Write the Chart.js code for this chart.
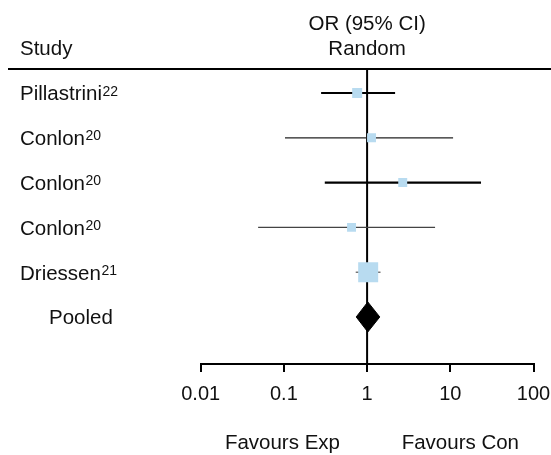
<!DOCTYPE html>
<html><head><meta charset="utf-8">
<script src="https://cdn.jsdelivr.net/npm/chart.js@4/dist/chart.umd.min.js"></script>
<style>html,body{margin:0;padding:0;background:#fff}</style>
</head><body>
<canvas id="c" width="551" height="455"></canvas>
<script>
const studies = ['Pillastrini', 'Conlon', 'Conlon', 'Conlon', 'Driessen'];
const refs = ['22', '20', '20', '20', '21'];
const oddsRatio = [0.76, 1.13, 2.68, 0.65, 1.03];
const ciLower = [0.28, 0.103, 0.31, 0.049, 0.73];
const ciUpper = [2.17, 10.8, 23.4, 6.56, 1.45];
const weights = [12.5, 10, 10, 10, 50];
const pooledLabel = 'Pooled';
const pooledOR = 1.02, pooledLower = 0.74, pooledUpper = 1.42;
const tickValues = [0.01, 0.1, 1, 10, 100];
const tickLabels = ['0.01', '0.1', '1', '10', '100'];
const favourLabels = ['Favours Exp', 'Favours Con'];

const FONT = '"Liberation Sans", Arial, Helvetica, sans-serif';
const TEXT = '#111';
const ciWidths = [2.2, 1.2, 2.2, 1.2, 1];
const ciColors = ['#000', '#222', '#000', '#444', '#333'];
const pooledRow = studies.length;
const diamondHalf = 0.335;

const datasets = [];
datasets.push({
  type: 'scatter', label: 'OR', order: 0,
  data: oddsRatio.map((v, i) => ({x: v, y: i})),
  pointStyle: 'rect',
  pointRadius: weights.map(w => 2 * Math.sqrt(w)),
  backgroundColor: '#b8dbf0', borderWidth: 0, pointBorderWidth: 0
});
datasets.push({
  type: 'line', label: 'Pooled', order: 0,
  data: [
    {x: pooledLower, y: pooledRow}, {x: pooledOR, y: pooledRow - diamondHalf},
    {x: pooledUpper, y: pooledRow}, {x: pooledOR, y: pooledRow + diamondHalf},
    {x: pooledLower, y: pooledRow}
  ],
  fill: 'shape', backgroundColor: '#000', borderColor: '#000', borderWidth: 1,
  pointRadius: 0, tension: 0
});
studies.forEach((s, i) => {
  datasets.push({
    type: 'line', label: 'CI ' + i, order: 1,
    data: [{x: ciLower[i], y: i}, {x: ciUpper[i], y: i}],
    borderColor: ciColors[i], borderWidth: ciWidths[i], pointRadius: 0, fill: false
  });
});

const annot = {
  id: 'annot',
  beforeDatasetsDraw(chart) {
    const {ctx, chartArea, scales: {x}} = chart;
    ctx.save();
    ctx.strokeStyle = '#000';
    ctx.lineWidth = 2;
    ctx.beginPath();
    ctx.moveTo(8, chartArea.top);
    ctx.lineTo(551, chartArea.top);
    const x1 = x.getPixelForValue(1);
    ctx.moveTo(x1, chartArea.top);
    ctx.lineTo(x1, chartArea.bottom);
    ctx.stroke();
    ctx.restore();
  },
  afterDraw(chart) {
    const {ctx, scales: {x, y}} = chart;
    const fs = 20.5, sfs = 14;
    ctx.save();
    ctx.fillStyle = TEXT;
    ctx.font = fs + 'px ' + FONT;
    ctx.textBaseline = 'middle';
    ctx.textAlign = 'left';
    ctx.fillText('Study', 20, 49);
    ctx.textAlign = 'center';
    const xc = x.getPixelForValue(1);
    ctx.fillText('OR (95% CI)', xc, 24);
    ctx.fillText('Random', xc, 49);
    ctx.textBaseline = 'alphabetic';
    ctx.textAlign = 'left';
    studies.forEach((s, i) => {
      const yy = y.getPixelForValue(i);
      ctx.font = fs + 'px ' + FONT;
      const base = yy + 0.358 * fs;
      ctx.fillText(s, 20, base);
      const w = ctx.measureText(s).width;
      ctx.font = sfs + 'px ' + FONT;
      const capTop = base - 0.716 * fs;
      ctx.fillText(refs[i], 20 + w + 0.5, capTop + 0.716 * sfs);
    });
    ctx.font = fs + 'px ' + FONT;
    ctx.fillText(pooledLabel, 49, y.getPixelForValue(pooledRow) + 0.358 * fs);
    ctx.textAlign = 'center';
    ctx.textBaseline = 'middle';
    ctx.fillText(favourLabels[0], x.getPixelForValue(0.096), 443);
    ctx.fillText(favourLabels[1], x.getPixelForValue(13.2), 443);
    ctx.restore();
  }
};

new Chart(document.getElementById('c'), {
  data: {datasets},
  plugins: [annot],
  options: {
    responsive: false, animation: false, devicePixelRatio: 1,
    layout: {padding: {left: 200.7, right: 17.5, top: 69, bottom: 0}},
    plugins: {legend: {display: false}, tooltip: {enabled: false}},
    scales: {
      x: {
        type: 'logarithmic', position: 'bottom', min: 0.01, max: 100,
        afterBuildTicks: s => { s.ticks = tickValues.map(v => ({value: v, major: true})); },
        afterFit: s => { s.height = 91; s.paddingLeft = 0; s.paddingRight = 0; },
        ticks: {
          autoSkip: false, maxRotation: 0, padding: 10, color: TEXT,
          font: {size: 20, family: FONT},
          callback: v => { const k = tickValues.indexOf(v); return k >= 0 ? tickLabels[k] : ''; }
        },
        grid: {drawOnChartArea: false, drawTicks: true, tickLength: 8, color: '#000', lineWidth: 2},
        border: {display: true, color: '#000', width: 2}
      },
      y: {
        type: 'linear', display: false, reverse: true, min: -0.536, max: 6.05
      }
    }
  }
});
</script>
</body></html>
